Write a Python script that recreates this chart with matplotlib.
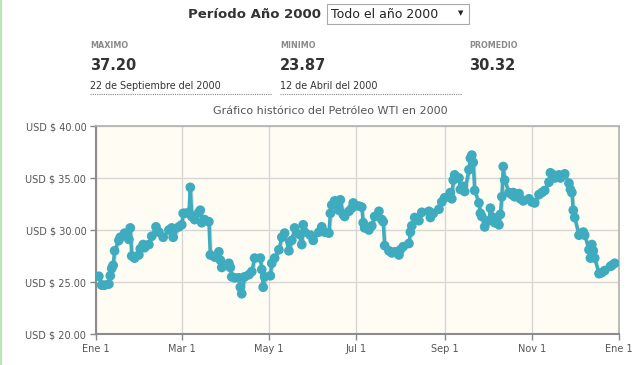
import matplotlib
matplotlib.use("Agg")
import matplotlib.pyplot as plt
import matplotlib.patheffects as pe
import numpy as np
from matplotlib.patches import Rectangle

# WTI daily close, 2000
dates = [
    "2000-01-03", "2000-01-05", "2000-01-07", "2000-01-10", "2000-01-11", "2000-01-12",
    "2000-01-13", "2000-01-14", "2000-01-17", "2000-01-18", "2000-01-21", "2000-01-24",
    "2000-01-25", "2000-01-26", "2000-01-28", "2000-01-31", "2000-02-01", "2000-02-03",
    "2000-02-04", "2000-02-07", "2000-02-09", "2000-02-12", "2000-02-14", "2000-02-17",
    "2000-02-21", "2000-02-23", "2000-02-24", "2000-02-28", "2000-03-01", "2000-03-02",
    "2000-03-03", "2000-03-06", "2000-03-07", "2000-03-08", "2000-03-10", "2000-03-13",
    "2000-03-14", "2000-03-15", "2000-03-17", "2000-03-20", "2000-03-21", "2000-03-24",
    "2000-03-27", "2000-03-28", "2000-03-29", "2000-04-03", "2000-04-04", "2000-04-05",
    "2000-04-07", "2000-04-10", "2000-04-11", "2000-04-12", "2000-04-14", "2000-04-17",
    "2000-04-19", "2000-04-21", "2000-04-25", "2000-04-26", "2000-04-27", "2000-04-28",
    "2000-05-02", "2000-05-03", "2000-05-05", "2000-05-08", "2000-05-10", "2000-05-12",
    "2000-05-15", "2000-05-17", "2000-05-19", "2000-05-22", "2000-05-24", "2000-05-25",
    "2000-05-26", "2000-05-30", "2000-06-01", "2000-06-05", "2000-06-07", "2000-06-09",
    "2000-06-12", "2000-06-13", "2000-06-14", "2000-06-16", "2000-06-19", "2000-06-20",
    "2000-06-22", "2000-06-23", "2000-06-26", "2000-06-28", "2000-06-29", "2000-07-03",
    "2000-07-05", "2000-07-06", "2000-07-07", "2000-07-10", "2000-07-12", "2000-07-14",
    "2000-07-17", "2000-07-19", "2000-07-20", "2000-07-21", "2000-07-24", "2000-07-26",
    "2000-07-28", "2000-07-31", "2000-08-01", "2000-08-03", "2000-08-07", "2000-08-08",
    "2000-08-09", "2000-08-11", "2000-08-14", "2000-08-16", "2000-08-21", "2000-08-22",
    "2000-08-24", "2000-08-28", "2000-08-30", "2000-09-01", "2000-09-05", "2000-09-06",
    "2000-09-07", "2000-09-08", "2000-09-11", "2000-09-12", "2000-09-14", "2000-09-15",
    "2000-09-18", "2000-09-19", "2000-09-20", "2000-09-21", "2000-09-22", "2000-09-25",
    "2000-09-26", "2000-09-27", "2000-09-29", "2000-10-02", "2000-10-03", "2000-10-05",
    "2000-10-06", "2000-10-09", "2000-10-10", "2000-10-11", "2000-10-12", "2000-10-13",
    "2000-10-16", "2000-10-18", "2000-10-19", "2000-10-20", "2000-10-23", "2000-10-24",
    "2000-10-26", "2000-10-30", "2000-11-01", "2000-11-03", "2000-11-06", "2000-11-08",
    "2000-11-10", "2000-11-13", "2000-11-14", "2000-11-16", "2000-11-17", "2000-11-20",
    "2000-11-21", "2000-11-24", "2000-11-27", "2000-11-28", "2000-11-29", "2000-11-30",
    "2000-12-01", "2000-12-04", "2000-12-05", "2000-12-07", "2000-12-08", "2000-12-11",
    "2000-12-12", "2000-12-13", "2000-12-14", "2000-12-15", "2000-12-18", "2000-12-20",
    "2000-12-22", "2000-12-26", "2000-12-27", "2000-12-29",
]
prices = [
    25.55, 24.7, 24.7, 24.8, 25.6, 26.3,
    26.6, 28.0, 29.0, 29.3, 29.7, 29.1,
    30.2, 27.5, 27.3, 27.6, 28.2, 28.6,
    28.3, 28.6, 29.4, 30.3, 29.8, 29.3,
    30.0, 30.2, 29.3, 30.3, 30.5, 31.6,
    31.6, 31.7, 34.1, 31.3, 31.0, 31.7,
    31.9, 30.7, 31.0, 30.8, 27.6, 27.4,
    27.9, 27.1, 26.4, 26.8, 26.4, 25.5,
    25.4, 25.4, 24.5, 23.87, 25.5, 25.7,
    26.0, 27.3, 27.3, 26.2, 24.5, 25.5,
    25.6, 26.8, 27.3, 28.1, 29.3, 29.7,
    28.0, 29.0, 30.2, 29.6, 28.6, 30.5,
    29.8, 29.5, 29.0, 29.8, 30.3, 29.8,
    29.7, 31.6, 32.4, 32.8, 31.9, 32.9,
    31.5, 31.3, 31.8, 32.1, 32.6, 32.3,
    32.2, 30.7, 30.2, 30.0, 30.4, 31.3,
    31.8, 31.0, 30.8, 28.5, 28.0, 27.8,
    27.9, 27.6, 28.1, 28.4, 28.7, 29.8,
    30.4, 31.2, 30.9, 31.7, 31.8, 31.2,
    31.6, 32.0, 32.7, 33.1, 33.6, 33.0,
    34.8, 35.3, 35.0, 33.9, 34.2, 33.7,
    35.8, 36.9, 37.2, 36.5, 33.8, 32.6,
    31.6, 31.3, 30.3, 30.9, 32.1, 31.2,
    30.7, 30.5, 31.5, 33.2, 36.1, 34.8,
    33.6, 33.4, 33.6, 33.2, 33.5, 33.0,
    32.8, 33.0, 32.7, 32.6, 33.4, 33.6,
    33.8, 34.6, 35.5, 35.3, 35.0, 35.3,
    35.0, 35.4, 34.5, 33.9, 33.6, 31.9,
    31.2, 29.5, 29.6, 29.8, 29.5, 28.1,
    27.3, 28.6, 28.0, 27.3, 25.8, 25.9,
    26.1, 26.5, 26.6, 26.8,
]

tick_dates = ["2000-01-01", "2000-03-01", "2000-05-01", "2000-07-01",
              "2000-09-01", "2000-11-01", "2001-01-01"]
tick_labels = ["Ene 1", "Mar 1", "May 1", "Jul 1", "Sep 1", "Nov 1", "Ene 1"]
y_ticks = [20, 25, 30, 35, 40]

stat_names = ["MAXIMO", "MINIMO", "PROMEDIO"]
stat_values = ["37.20", "23.87", "30.32"]
stat_dates = ["22 de Septiembre del 2000", "12 de Abril del 2000", ""]

line_color = "#3fabbf"
text_dark = "#333333"

fig = plt.figure(figsize=(6.4, 3.65), dpi=100)
fig.patch.set_facecolor("white")

# thin green page edge on the left
fig.patches.append(Rectangle((0, 0), 2 / 640, 1, transform=fig.transFigure,
                             facecolor="#b8e6b0", edgecolor="none"))

# header
fig.text(321 / 640, 1 - 15 / 365, "Período Año 2000", ha="right", va="center",
         fontsize=9.5, fontweight="bold", color=text_dark)
fig.patches.append(Rectangle((327 / 640, 1 - 24 / 365), 142 / 640, 20 / 365,
                             transform=fig.transFigure, facecolor="white",
                             edgecolor="#a9a9a9", linewidth=0.8))
fig.text(331 / 640, 1 - 14 / 365, "Todo el año 2000", ha="left", va="center",
         fontsize=9, color="#222222")
fig.text(461 / 640, 1 - 13 / 365, "▼", ha="center", va="center",
         fontsize=5, color="#222222")

# summary stats
stat_x = [90, 280, 469]
for x, name, val, d in zip(stat_x, stat_names, stat_values, stat_dates):
    fig.text(x / 640, 1 - 45 / 365, name, ha="left", va="center",
             fontsize=5.8, fontweight="bold", color="#8a8a8a")
    fig.text(x / 640, 1 - 65 / 365, val, ha="left", va="center",
             fontsize=10.5, fontweight="bold", color=text_dark)
    if d:
        fig.text(x / 640, 1 - 86 / 365, d, ha="left", va="center",
                 fontsize=6.9, color=text_dark)
        fig.lines.append(plt.Line2D([x / 640, (x + 182) / 640],
                                    [1 - 94 / 365, 1 - 94 / 365],
                                    transform=fig.transFigure, color="#888888",
                                    linestyle=(0, (1, 1)), linewidth=0.8))

# chart
ax = fig.add_axes([96 / 640, 1 - 334 / 365, 523 / 640, 208 / 365])
ax.set_facecolor("#fffcf3")
x = np.array(dates, dtype="datetime64[D]")
ax.plot(x, prices, color=line_color, linewidth=2.5, marker="o",
        markersize=7, markeredgewidth=0, zorder=3,
        path_effects=[pe.SimpleLineShadow(offset=(0.7, -0.7), alpha=0.15),
                      pe.Normal()])

ax.set_xlim(np.datetime64("2000-01-01"), np.datetime64("2001-01-01"))
ax.set_ylim(20, 40)
ax.set_xticks(np.array(tick_dates, dtype="datetime64[D]"))
ax.set_xticklabels(tick_labels)
ax.set_yticks(y_ticks)
ax.set_yticklabels([f"USD $ {v:.2f}" for v in y_ticks])
ax.grid(True, color="#d6d6d6", linewidth=1)
ax.set_axisbelow(True)
ax.tick_params(axis="both", labelsize=7, colors="#555555", length=4,
               width=1, color="#888888", pad=3)
for s in ["left", "bottom"]:
    ax.spines[s].set_color("#8c8c8c")
    ax.spines[s].set_linewidth(1.5)
for s in ["top", "right"]:
    ax.spines[s].set_color("#b0b0b0")
    ax.spines[s].set_linewidth(1.2)

fig.text(330 / 640, 1 - 111 / 365, "Gráfico histórico del Petróleo WTI en 2000",
         ha="center", va="center", fontsize=8, color="#555555")

fig.savefig("out.png", dpi=100)
